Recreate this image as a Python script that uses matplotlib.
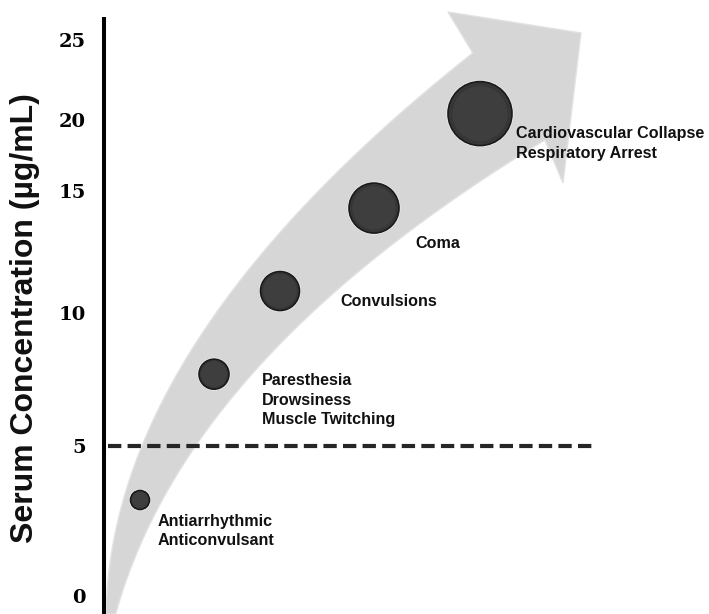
import numpy as np
import matplotlib
matplotlib.use("Agg")
import matplotlib.pyplot as plt
from matplotlib.patches import Polygon

# ---------------- data ----------------
tick_values = [0, 5, 10, 15, 20, 25]
tick_labels = ["0", "5", "10", "15", "20", "25"]
effects = [
    "Antiarrhythmic\nAnticonvulsant",
    "Paresthesia\nDrowsiness\nMuscle Twitching",
    "Convulsions",
    "Coma",
    "Cardiovascular Collapse\nRespiratory Arrest",
]
effect_conc = [3.2, 7.7, 10.9, 14.3, 20.4]       # serum concentration (ug/mL)
toxic_threshold = 5

# ---------------- layout / style ----------------
W, H = 709, 614
tick_px = [596, 446, 313, 191, 120, 40]           # pixel row of each tick (non-linear axis)
dot_x = [36, 110, 176, 270, 376]                  # horizontal position (px from axis)
dot_r = [9.5, 15, 19.5, 25, 32]                   # dot radius in px
label_off = [(18, -31), (48, -26), (60, -10), (41, -35), (36, -30)]

brk_c = np.array([-0.6] + tick_values + [27.5], dtype=float)
brk_px = np.array([614] + tick_px + [0], dtype=float)


def fwd(c):
    return -np.interp(c, brk_c, brk_px)


def inv(v):
    return np.interp(-np.asarray(v), brk_px[::-1], brk_c[::-1])


fig = plt.figure(figsize=(W / 100, H / 100), dpi=100)
fig.patch.set_facecolor("white")

# background decorative arrow (pixel coordinates)
bg = fig.add_axes([0, 0, 1, 1])
bg.set_xlim(0, W)
bg.set_ylim(H, 0)
bg.axis("off")

up_pts = np.array([(107, 614), (118, 514), (140, 446), (157, 414), (202, 340), (263, 250),
                   (338, 170), (420, 97), (473, 53)], float)
lo_pts = np.array([(545, 140), (500, 167), (440, 210), (400, 240), (367, 263), (307, 320),
                   (250, 378), (213, 414), (192, 446), (162, 514), (114, 614)], float)
cu = np.polyfit(up_pts[:, 1], up_pts[:, 0], 3)
cl = np.polyfit(lo_pts[:, 1], lo_pts[:, 0], 3)
yu = np.linspace(614, 53, 120)
yl = np.linspace(140, 614, 120)
upper = np.column_stack([np.polyval(cu, yu), yu])
lower = np.column_stack([np.polyval(cl, yl), yl])
head = np.array([(448, 12), (581, 33), (563, 183)], float)
outline = np.vstack([upper, head, lower])
bg.add_patch(Polygon(outline, closed=True, facecolor="#d6d6d6", edgecolor="#e2e2e2",
                     linewidth=1.0, zorder=1))

# main axes
ax = fig.add_axes([104 / W, 0, (W - 104) / W, 1])
ax.patch.set_alpha(0)
ax.set_yscale("function", functions=(fwd, inv))
ax.set_xlim(0, W - 104)
ax.set_ylim(float(inv(-614)), float(inv(0)))
for s in ["top", "right", "bottom"]:
    ax.spines[s].set_visible(False)
ax.spines["left"].set_linewidth(2.9)
ax.spines["left"].set_color("black")
ax.spines["left"].set_bounds(float(inv(-614)), float(inv(-19)))
ax.set_xticks([])
ax.set_yticks(tick_values)
ax.set_yticklabels(tick_labels, fontfamily="DejaVu Serif", fontweight="bold",
                   fontsize=14)
ax.tick_params(axis="y", length=0, pad=13)
ax.yaxis.set_minor_locator(matplotlib.ticker.NullLocator())

# threshold line
ax.hlines(toxic_threshold, 4, 489, colors="#262626", linewidth=3.0,
          linestyles=(0, (3.2, 1.5)), zorder=3)

# dots
sizes = [(2 * r * 0.72) ** 2 for r in dot_r]
ax.scatter(dot_x, effect_conc, s=[(2 * (r + 1.5) * 0.72) ** 2 for r in dot_r],
           color="#f0f0f0", zorder=4, linewidths=0)
ax.scatter(dot_x, effect_conc, s=sizes, color="#363636", edgecolors="#1a1a1a",
           linewidths=1.2, zorder=5)
ax.scatter(dot_x, effect_conc, s=[(2 * r * 0.62) ** 2 for r in dot_r],
           color="#3e3e3e", linewidths=0, zorder=6)

# labels
for x, y, txt, (dx, dy) in zip(dot_x, effect_conc, effects, label_off):
    ax.annotate(txt, (x, y), xytext=(dx, dy), textcoords="offset pixels",
                ha="left", va="center", fontsize=11.6, fontweight="bold",
                family=["Liberation Sans", "DejaVu Sans"],
                linespacing=1.38, color="#111111", zorder=7)

fig.text(25 / W, 1 - 318 / H, "Serum Concentration (µg/mL)", rotation=90,
         ha="center", va="center", fontsize=23, fontweight="bold",
         family="Liberation Sans", color="#111111")

fig.savefig("out.png", dpi=100, facecolor="white")
